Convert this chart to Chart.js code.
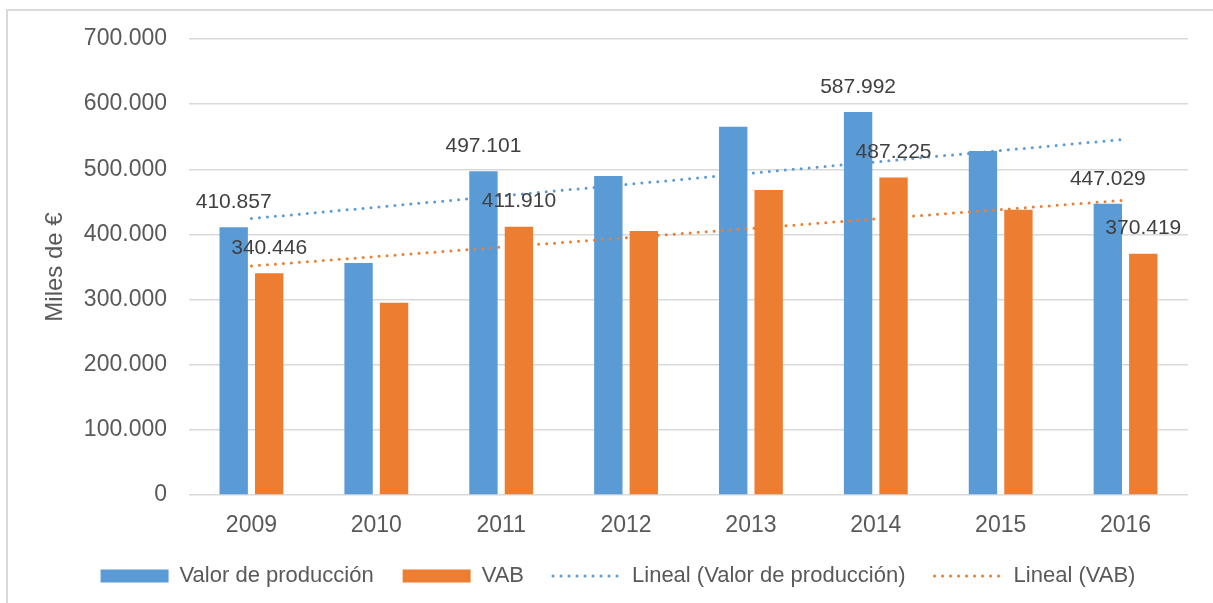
<!DOCTYPE html>
<html>
<head>
<meta charset="utf-8">
<script src="https://cdn.jsdelivr.net/npm/chart.js@4.4.0/dist/chart.umd.min.js"></script>
<style>
  html, body { margin: 0; padding: 0; background: #ffffff; }
  #wrap { width: 1213px; height: 603px; }
</style>
</head>
<body>
<div id="wrap"><canvas id="c" width="1213" height="603"></canvas></div>
<script>
// ---- data ----
const years = ['2009', '2010', '2011', '2012', '2013', '2014', '2015', '2016'];
const valorProduccion = [410857, 356000, 497101, 489700, 565400, 587992, 528100, 447029];
const vab = [340446, 295200, 411910, 405300, 468200, 487225, 438000, 370419];
const labeledYears = ['2009', '2011', '2014', '2016'];
const trendYears = ['2009', '2016'];
const trendValor = [424400, 546200];
const trendVAB = [351600, 452600];
const yMin = 0, yMax = 700000, yStep = 100000;
const yTitle = 'Miles de €';
const seriesNames = ['Valor de producción', 'VAB', 'Lineal (Valor de producción)', 'Lineal (VAB)'];

const BLUE = '#5B9BD5', ORANGE = '#ED7D31';
const FONT = "'Liberation Sans', Arial, sans-serif";

function fmt(v) {
  return String(Math.round(v)).replace(/\B(?=(\d{3})+(?!\d))/g, '.');
}

const framePlugin = {
  id: 'frame',
  beforeDraw(chart) {
    const ctx = chart.ctx;
    ctx.save();
    ctx.strokeStyle = '#d9d9d9';
    ctx.lineWidth = 2;
    ctx.beginPath();
    ctx.moveTo(7, 603);
    ctx.lineTo(7, 10);
    ctx.lineTo(1213, 10);
    ctx.stroke();
    ctx.restore();
  }
};

// move the legend box up a little so its row sits where the reference has it
const legendPlacePlugin = {
  id: 'legendPlace',
  afterLayout(chart) {
    const lg = chart.legend;
    if (!lg) return;
    lg.top = 536;
    lg.bottom = 603;
    lg.height = 67;
  }
};

const labelPlugin = {
  id: 'barLabels',
  afterDatasetsDraw(chart) {
    const ctx = chart.ctx;
    ctx.save();
    ctx.font = '21px ' + FONT;
    ctx.fillStyle = '#404040';
    ctx.textAlign = 'center';
    ctx.textBaseline = 'middle';
    [0, 1].forEach(di => {
      const meta = chart.getDatasetMeta(di);
      const ds = chart.data.datasets[di];
      years.forEach((y, i) => {
        if (!labeledYears.includes(y)) return;
        const el = meta.data[i];
        ctx.fillText(fmt(ds.data[i]), el.x, el.y - 25);
      });
    });
    ctx.restore();
  }
};

const trendPoints = vals => trendYears.map((y, i) => ({ x: y, y: vals[i] }));

new Chart(document.getElementById('c'), {
  data: {
    labels: years,
    datasets: [
      { type: 'bar', label: seriesNames[0], data: valorProduccion, backgroundColor: BLUE, order: 2,
        categoryPercentage: 0.568, barPercentage: 0.8 },
      { type: 'bar', label: seriesNames[1], data: vab, backgroundColor: ORANGE, order: 2,
        categoryPercentage: 0.568, barPercentage: 0.8 },
      { type: 'line', label: seriesNames[2], data: trendPoints(trendValor), borderColor: BLUE, backgroundColor: BLUE,
        borderWidth: 3, borderDash: [0, 8], borderCapStyle: 'round', pointRadius: 0, fill: false, order: 1 },
      { type: 'line', label: seriesNames[3], data: trendPoints(trendVAB), borderColor: ORANGE, backgroundColor: ORANGE,
        borderWidth: 3, borderDash: [0, 8], borderCapStyle: 'round', pointRadius: 0, fill: false, order: 1 }
    ]
  },
  options: {
    responsive: false,
    animation: false,
    layout: { padding: { left: 48, right: 25, top: 39, bottom: 0 } },
    plugins: {
      tooltip: { enabled: false },
      legend: {
        position: 'bottom',
        maxHeight: 58,
        labels: {
          usePointStyle: true,
          pointStyleWidth: 68,
          boxHeight: 13,
          padding: 29,
          color: '#595959',
          font: { family: FONT, size: 22 },
          generateLabels: chart => chart.data.datasets.map((ds, i) => ({
            text: ds.label,
            fillStyle: ds.backgroundColor,
            strokeStyle: ds.borderColor || ds.backgroundColor,
            lineWidth: ds.type === 'line' ? 3 : 0,
            lineDash: ds.type === 'line' ? [0, 8] : [],
            lineCap: 'round',
            pointStyle: ds.type === 'line' ? 'line' : 'rect',
            fontColor: '#595959',
            hidden: false,
            datasetIndex: i
          }))
        }
      }
    },
    scales: {
      x: {
        grid: { display: false },
        border: { display: false },
        ticks: { color: '#595959', font: { family: FONT, size: 23 }, padding: 9 },
        afterFit(scale) { scale.height = 50; }
      },
      y: {
        min: yMin, max: yMax,
        border: { display: false },
        grid: { color: '#d9d9d9', lineWidth: 1.5, drawTicks: false },
        ticks: { stepSize: yStep, color: '#595959', font: { family: FONT, size: 23 }, padding: 22,
          callback: v => fmt(v) },
        title: { display: true, text: yTitle, color: '#595959', font: { family: FONT, size: 24 },
          padding: { top: -7, bottom: 0 } },
        afterFit(scale) { scale.width = 141; }
      }
    }
  },
  plugins: [framePlugin, legendPlacePlugin, labelPlugin]
});
</script>
</body>
</html>
